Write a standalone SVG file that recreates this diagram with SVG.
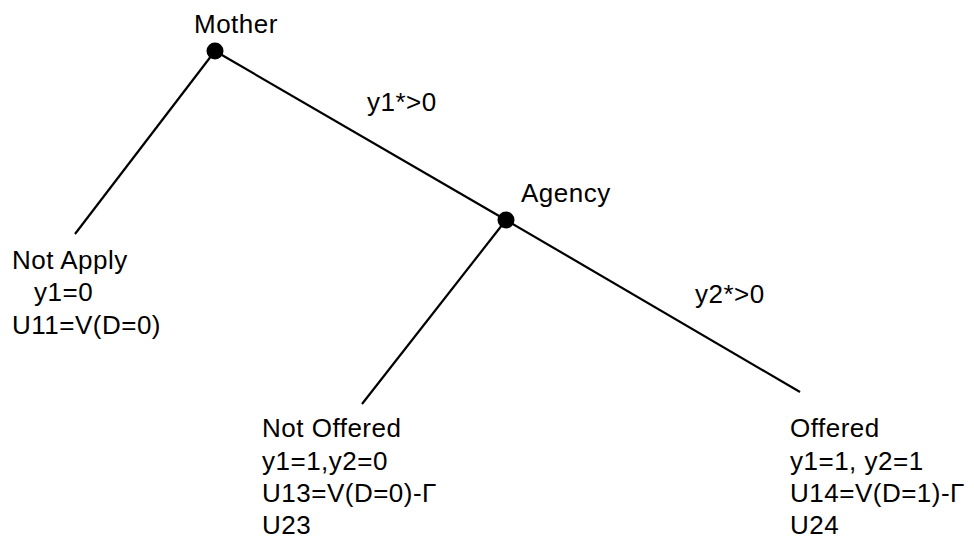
<svg xmlns="http://www.w3.org/2000/svg" width="974" height="540" viewBox="0 0 974 540">
<style>
text{font-family:"Liberation Sans",Arial,sans-serif;font-size:26px;fill:#000;letter-spacing:0.5px}
.e{stroke:#000;stroke-width:2.2;fill:none}
.d{fill:#000}
</style>
<rect width="974" height="540" fill="#fff"/>
<g id="connectors">
<line class="e" x1="215" y1="51" x2="75" y2="234"/>
<line class="e" x1="215" y1="51" x2="506" y2="220"/>
<line class="e" x1="506" y1="220" x2="362" y2="404"/>
<line class="e" x1="506" y1="220" x2="800" y2="392"/>
</g>
<g id="mother"><circle class="d" cx="215" cy="51" r="8.5"/><text x="194" y="33">Mother</text></g>
<g id="agency"><circle class="d" cx="506" cy="220" r="8.5"/><text x="521" y="202">Agency</text></g>
<g id="label1"><text x="367" y="111">y1*&gt;0</text></g>
<g id="label2"><text x="695" y="303">y2*&gt;0</text></g>
<g id="notapply"><text x="12" y="269">Not Apply</text><text x="34" y="301">y1=0</text><text x="12" y="334">U11=V(D=0)</text></g>
<g id="notoffered"><text x="262" y="437">Not Offered</text><text x="262" y="470">y1=1,y2=0</text><text x="262" y="502">U13=V(D=0)-Γ</text><text x="262" y="534">U23</text></g>
<g id="offered"><text x="790" y="437">Offered</text><text x="790" y="470">y1=1, y2=1</text><text x="790" y="502">U14=V(D=1)-Γ</text><text x="790" y="534">U24</text></g>
</svg>
